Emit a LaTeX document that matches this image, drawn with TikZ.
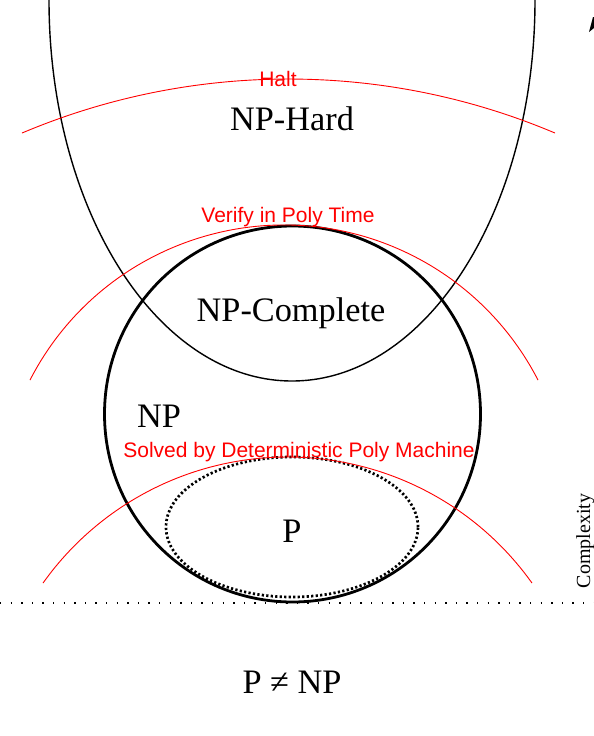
\documentclass[tikz,border=0pt]{standalone}
\usepackage{fontspec}
\setmainfont{Liberation Serif}
\newfontfamily\redsans{Liberation Sans}
\begin{document}
\begin{tikzpicture}[x=1pt,y=-1pt,
  bigtext/.style={font=\fontsize{34.3}{37}\selectfont, inner sep=0pt, anchor=base},
  redtext/.style={font=\redsans\fontsize{21}{23}\selectfont, text=red, inner sep=0pt, anchor=base},
  redarc/.style={draw=red, line width=0.9pt},
  npcircle/.style={line width=2.8pt},
  hardline/.style={line width=1.4pt},
  pdots/.style={line width=2.7pt, dash pattern=on 2.2pt off 2.3pt},
  baseline dots/.style={line width=1.4pt, dash pattern=on 1.4pt off 9.2pt}
]
\useasboundingbox (0,0) rectangle (594,736);

% NP-Hard region (lower half of an ellipse)
\draw[hardline] (49,0) arc[start angle=180, end angle=360, x radius=243pt, y radius=381pt];

% NP circle
\draw[npcircle] (292.5,414) circle[radius=188pt];

% P region
\draw[pdots] (292,527) ellipse[x radius=126pt, y radius=70pt];

% red arcs
\coordinate (hc) at (288.5,763.6);
\coordinate (vc) at (284,510.6);
\coordinate (sc) at (287.5,757.2);
\draw[redarc] (hc) ++(112.91:684.6pt) arc[start angle=112.91, end angle=67.09, radius=684.6pt];
\draw[redarc] (vc) ++(152.8:285.6pt) arc[start angle=152.8, end angle=27.2, radius=285.6pt];
\draw[redarc] (sc) ++(144.53:300.2pt) arc[start angle=144.53, end angle=35.47, radius=300.2pt];

% dotted base line
\coordinate (bl) at (0,603);
\coordinate (br) at (594,603);
\draw[baseline dots] (bl) -- (br);

% arrow tip at top right
\fill (589,32) -- (593,17) -- (594,17) -- (594,28) -- cycle;

% labels
\node[redtext] (halt) at (278,86) {Halt};
\node[bigtext] (nphard) at (292,130) {NP-Hard};
\node[redtext] (verify) at (288,222) {Verify in Poly Time};
\node[bigtext] (npc) at (291,321) {NP-Complete};
\node[bigtext] (np) at (159,427) {NP};
\node[redtext] (solved) at (299,457) {Solved by Deterministic Poly Machine};
\node[bigtext] (p) at (292,542) {P};
\node[bigtext] (pnp) at (292,693) {P ≠ NP};
\node[font=\fontsize{20}{22}\selectfont, inner sep=0pt, anchor=base, rotate=90] (cx) at (590,541) {Complexity};
\end{tikzpicture}
\end{document}
